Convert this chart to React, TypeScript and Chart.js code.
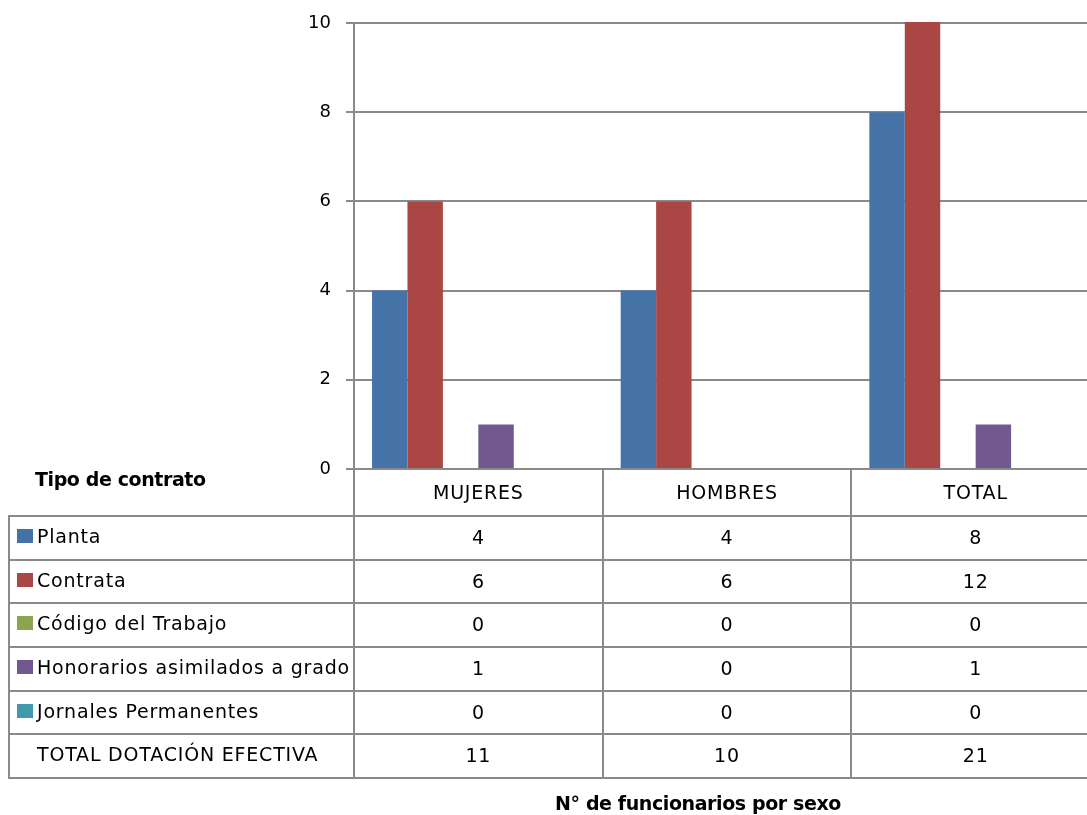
import React, { useEffect, useRef } from 'react';
import { Chart, registerables } from 'chart.js';

Chart.register(...registerables);

const categories = ['MUJERES', 'HOMBRES', 'TOTAL'];
const seriesNames = [
  'Planta',
  'Contrata',
  'Código del Trabajo',
  'Honorarios asimilados a grado',
  'Jornales Permanentes',
  'TOTAL DOTACIÓN EFECTIVA',
];
const planta = [4, 4, 8];
const contrata = [6, 6, 12];
const codigoTrabajo = [0, 0, 0];
const honorarios = [1, 0, 1];
const jornales = [0, 0, 0];
const totalDotacion = [11, 10, 21];
const seriesColors = ['#4572A7', '#AA4643', '#89A54E', '#71588F', '#4198AF', 'rgba(0,0,0,0)'];
const showKey = [true, true, true, true, true, false];
const yMin = 0;
const yMax = 10;
const yStep = 2;
const tableTitle = 'Tipo de contrato';
const axisTitle = 'N° de funcionarios por sexo';

const GRID = '#8a8a8a';
const FONT = "'DejaVu Sans'";

const tablePlugin = {
  id: 'dataTable',
  afterDraw(chart: any) {
    const { ctx, chartArea: area, scales } = chart;
    const xs = scales.x;
    const n = chart.data.labels.length;
    const colW = (area.right - area.left) / n;
    const tableLeft = 9;
    const headerTop = area.bottom;
    const headerBottom = headerTop + 47;
    const rowH = 43.67;
    const rows = chart.data.datasets.length;
    const tableBottom = headerBottom + rows * rowH;

    ctx.save();
    ctx.strokeStyle = GRID;
    ctx.lineWidth = 2;
    ctx.beginPath();
    for (let k = 0; k <= rows; k++) {
      const y = Math.round(headerBottom + k * rowH);
      ctx.moveTo(tableLeft - 1, y);
      ctx.lineTo(area.right + 2, y);
    }
    ctx.moveTo(tableLeft, Math.round(headerBottom) - 1);
    ctx.lineTo(tableLeft, Math.round(tableBottom) + 1);
    for (let i = 0; i <= n; i++) {
      const x = Math.round(area.left + i * colW);
      ctx.moveTo(x, headerTop);
      ctx.lineTo(x, Math.round(tableBottom) + 1);
    }
    ctx.stroke();

    ctx.fillStyle = '#000';
    ctx.font = `19px ${FONT}`;
    try { ctx.letterSpacing = '0.8px'; } catch (e) {}
    ctx.textBaseline = 'alphabetic';
    ctx.textAlign = 'center';
    chart.data.labels.forEach((lab: string, i: number) => {
      ctx.fillText(lab, xs.getPixelForValue(i), headerTop + 30);
    });

    chart.data.datasets.forEach((ds: any, d: number) => {
      const rowTop = headerBottom + d * rowH;
      if (showKey[d]) {
        ctx.fillStyle = seriesColors[d];
        ctx.fillRect(17, Math.round(rowTop + 13), 16, 14);
      }
      ctx.fillStyle = '#000';
      ctx.textAlign = 'left';
      ctx.fillText(ds.label, 37, rowTop + 27);
      ctx.textAlign = 'center';
      ds.data.forEach((v: number, i: number) => {
        ctx.fillText(String(v), xs.getPixelForValue(i), rowTop + 28);
      });
    });

    ctx.font = `bold 19px ${FONT}`;
    try { ctx.letterSpacing = '-0.4px'; } catch (e) {}
    ctx.textAlign = 'left';
    ctx.fillText(tableTitle, 35, 486);
    ctx.textAlign = 'center';
    ctx.fillText(axisTitle, 698, 810);
    ctx.restore();
  },
};

export default function App() {
  const ref = useRef<HTMLCanvasElement | null>(null);
  useEffect(() => {
    if (!ref.current) return;
    const values = [planta, contrata, codigoTrabajo, honorarios, jornales, totalDotacion];
    const chart = new Chart(ref.current, {
      type: 'bar',
      data: {
        labels: categories,
        datasets: seriesNames.map((name, i) => ({
          label: name,
          data: values[i],
          backgroundColor: seriesColors[i],
          borderWidth: 0,
          categoryPercentage: 0.855,
          barPercentage: 1,
          clip: 1,
        })),
      },
      options: {
        responsive: false,
        animation: false,
        devicePixelRatio: 1,
        layout: { padding: { left: 0, top: 23, right: 1, bottom: 346 } },
        plugins: { legend: { display: false }, tooltip: { enabled: false }, title: { display: false } },
        scales: {
          x: { display: false },
          y: {
            min: yMin,
            max: yMax,
            ticks: { stepSize: yStep, color: '#000', font: { family: 'DejaVu Sans', size: 18 }, padding: 15 },
            grid: { color: GRID, lineWidth: 2, tickLength: 8, drawTicks: true },
            border: { display: true, color: GRID, width: 2 },
            afterFit: (s: any) => { s.width = 354; s.paddingTop = 0; s.paddingBottom = 0; },
          },
        },
      },
      plugins: [tablePlugin],
    } as any);
    return () => chart.destroy();
  }, []);
  return (
    <div style={{ position: 'absolute', left: 0, top: 0, width: 1087, height: 815, overflow: 'hidden', background: '#fff' }}>
      <canvas ref={ref} width={1101} height={815} style={{ width: 1101, height: 815, display: 'block' }} />
    </div>
  );
}
